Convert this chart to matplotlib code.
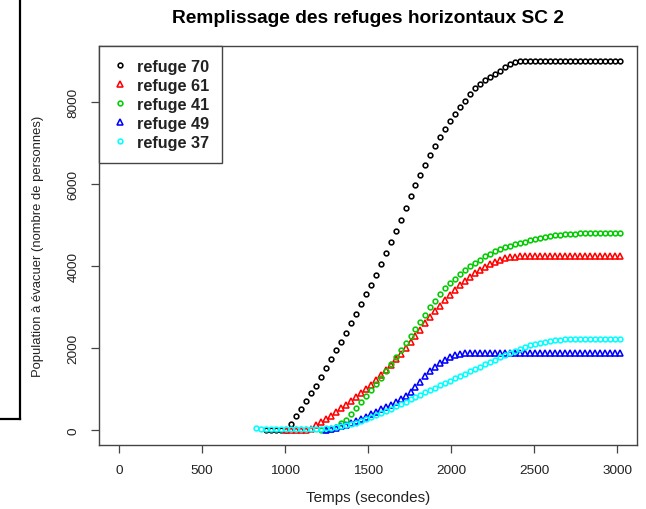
import numpy as np
import matplotlib
matplotlib.use("Agg")
import matplotlib.pyplot as plt
from matplotlib.lines import Line2D

plt.rcParams['font.family'] = ['Liberation Sans', 'DejaVu Sans']

nan = np.nan

# temps de simulation, un point toutes les 30 s
temps = np.arange(826, 3017, 30)

refuge_70 = [nan, nan, 0, 0, 0, 0, 0,
             163, 357, 527, 722, 916, 1087, 1306, 1524, 1740, 1945,
             2149, 2375, 2602, 2837, 3073, 3307, 3542, 3778, 4053, 4313,
             4588, 4855, 5130, 5407, 5699, 5974, 6210, 6460, 6696, 6915,
             7134, 7328, 7530, 7707, 7870, 8030, 8190, 8330, 8430, 8520,
             8600, 8680, 8760, 8840, 8910, 8960,
             8990, 8990, 8990, 8990, 8990, 8990, 8990, 8990, 8990, 8990,
             8990, 8990, 8990, 8990, 8990, 8990, 8990, 8990, 8990, 8990, 8990]

refuge_61 = [nan, nan, nan, nan, nan, nan,
             0, 0, 0, 0, 0,
             40, 122, 195, 277, 357, 447, 536, 625, 714, 803,
             900, 1006, 1111, 1225, 1346, 1468, 1597, 1727, 1865, 2003,
             2148, 2294, 2448, 2602, 2748, 2894, 3032, 3161, 3291, 3413,
             3526, 3631, 3729, 3826, 3907, 3988, 4053, 4110, 4158, 4191,
             4215, 4231,
             4240, 4240, 4240, 4240, 4240, 4240, 4240, 4240, 4240, 4240,
             4240, 4240, 4240, 4240, 4240, 4240, 4240, 4240, 4240, 4240, 4240]

refuge_41 = [nan, nan, nan, nan, nan, nan, nan, nan, nan, nan, nan, nan, nan,
             0, 0,
             25, 82, 171, 250, 390, 540, 690, 830, 975, 1125,
             1275, 1440, 1610, 1785, 1954, 2124, 2294, 2473, 2643, 2813,
             2991, 3153, 3307, 3453, 3583, 3696, 3802, 3907, 3996, 4085,
             4158, 4239, 4304, 4361, 4410, 4458, 4499, 4531, 4564, 4596,
             4628, 4656, 4682, 4706, 4727, 4745, 4760, 4772, 4782, 4789, 4794,
             4797, 4797, 4797, 4797, 4797, 4797, 4797, 4797]

refuge_49 = [nan, nan, nan, nan, nan, nan, nan, nan, nan, nan, nan, nan, nan, nan,
             0,
             25, 57, 98, 130, 179, 228, 277, 333, 390, 447,
             511, 568, 625, 690, 755, 836, 941, 1054, 1184, 1314,
             1435, 1549, 1646, 1719, 1784, 1832, 1865, 1881,
             1889, 1889, 1889, 1889, 1889, 1889, 1889, 1889, 1889, 1889,
             1889, 1889, 1889, 1889, 1889, 1889, 1889, 1889, 1889, 1889,
             1889, 1889, 1889, 1889, 1889, 1889, 1889, 1889, 1889, 1889, 1889]

refuge_37 = [45,
             40, 38, 36, 35, 34, 33, 33, 32, 32, 32, 32,
             33, 41, 50, 66, 82, 98, 122, 155, 187, 228,
             268, 317, 366, 414, 471, 528, 584, 641, 698, 755,
             811, 868, 925, 982, 1038, 1095, 1152, 1208, 1265, 1322,
             1379, 1435, 1492, 1549, 1606, 1662, 1719, 1776, 1832, 1889,
             1938, 1986, 2027, 2068, 2100, 2132, 2157, 2181, 2197, 2210, 2218,
             2222, 2222, 2222, 2222, 2222, 2222, 2222, 2222, 2222, 2222, 2222]

series = [("refuge 70", refuge_70, "black", "o"),
          ("refuge 61", refuge_61, "red", "^"),
          ("refuge 41", refuge_41, "#00CD00", "o"),
          ("refuge 49", refuge_49, "blue", "^"),
          ("refuge 37", refuge_37, "cyan", "o")]

fig = plt.figure(figsize=(6.46, 5.10), dpi=100)
ax = fig.add_axes([99 / 646, 64 / 510, 538 / 646, 399 / 510])

for name, vals, col, mk in series:
    ms = 3.4 if mk == "o" else 4.6
    ax.plot(temps, vals, linestyle="none", marker=mk, ms=ms, mfc="none",
            mec=col, mew=1.15, label=name)

ax.set_xlim(-120, 3120)
ax.set_ylim(-360, 9360)
ax.set_xticks([0, 500, 1000, 1500, 2000, 2500, 3000])
ax.set_yticks([0, 2000, 4000, 6000, 8000])
for lbl in ax.get_yticklabels():
    lbl.set_rotation(90)
    lbl.set_va("center")

ax.tick_params(direction="out", length=6, width=0.9, color="#444",
               labelsize=9.7, labelcolor="#222", pad=8)
for sp in ax.spines.values():
    sp.set_color("#444")
    sp.set_linewidth(1.0)

ax.set_title("Remplissage des refuges horizontaux SC 2", fontsize=13.8,
             fontweight="bold", pad=17)
ax.set_xlabel("Temps (secondes)", fontsize=11, color="#222", labelpad=10)
ax.set_ylabel("Population à évacuer (nombre de personnes)", fontsize=9.4,
              color="#222", labelpad=17)

leg = ax.legend(loc="upper left", bbox_to_anchor=(0, 1), borderaxespad=0,
                fancybox=False, edgecolor="#444", framealpha=1,
                prop={"size": 11.7, "weight": "bold"}, handlelength=1.0,
                handletextpad=0.55, labelspacing=0.24, borderpad=0.8)
leg.get_frame().set_linewidth(1.0)
for t in leg.get_texts():
    t.set_color("#222")

# bord du cadre voisin, à gauche
fig.add_artist(Line2D([20 / 646, 20 / 646], [1, 1 - 420 / 510],
                      transform=fig.transFigure, color="black", lw=1.6))
fig.add_artist(Line2D([0, 20 / 646], [1 - 420 / 510, 1 - 420 / 510],
                      transform=fig.transFigure, color="black", lw=1.6))

fig.savefig("out.png", dpi=100)
